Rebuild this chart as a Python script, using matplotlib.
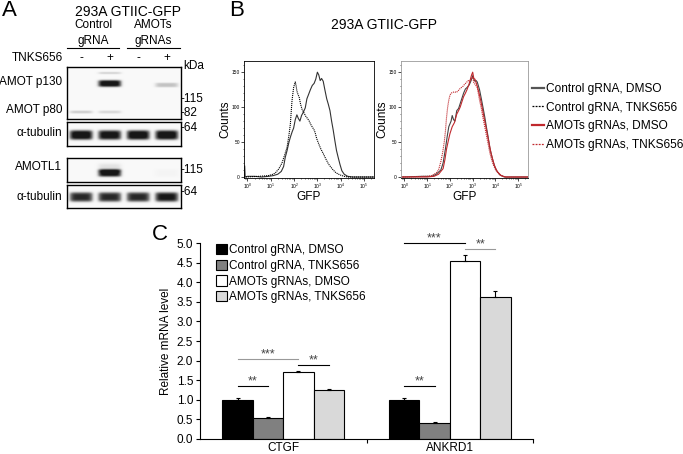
import numpy as np
import matplotlib
matplotlib.use("Agg")
import matplotlib.pyplot as plt
from matplotlib.lines import Line2D
from matplotlib.patches import Patch
from matplotlib.ticker import LogLocator, MultipleLocator, FormatStrFormatter, NullFormatter

plt.rcParams['font.family'] = ['Liberation Sans', 'DejaVu Sans']

W, H = 683, 454   # figure size in pixels (dpi 100)

# ---------------- data ----------------
# panel A: western blot band intensities per lane (0 = none, 1 = black)
lane_gRNA = ['Control\ngRNA', 'AMOTs\ngRNAs']
lane_tnks = ['-', '+', '-', '+']
amot_p130 = [0.0, 0.95, 0.0, 0.0]
amot_p130_l4 = [0.0, 0.0, 0.0, 0.30]
amot_upper = [0.0, 0.22, 0.0, 0.0]
amot_p80 = [0.25, 0.20, 0.0, 0.0]
tubulin_1 = [0.95, 0.92, 0.95, 0.95]
amotl1 = [0.0, 0.92, 0.0, 0.04]
amotl1_smear = [0.0, 0.15, 0.0, 0.0]
tubulin_2 = [0.82, 0.82, 0.82, 0.88]

# panel B: flow cytometry histograms (log10 GFP, counts)
ctrl_dmso_d = [-0.15, -0.12, -0.1, 0.0, 0.3, 0.6, 0.9, 1.1, 1.3, 1.45, 1.55, 1.62, 1.7, 1.78, 1.85, 1.92,
               1.98, 2.05, 2.12, 2.18, 2.25, 2.32, 2.4, 2.48, 2.55, 2.62, 2.7, 2.78, 2.86, 2.93, 3.0,
               3.06, 3.12, 3.18, 3.25, 3.32, 3.4, 3.47, 3.54, 3.61, 3.68, 3.75, 3.82, 3.9, 3.97,
               4.05, 4.15, 4.3, 4.5, 5.43]
ctrl_dmso_c = [0, 16, 0, 1, 1, 0, 1, 2, 4, 8, 15, 28, 38, 50, 58, 65,
               70, 82, 89, 84, 80, 88, 93, 99, 112, 118, 125, 131, 134, 140, 150,
               146, 138, 141, 137, 125, 112, 104, 95, 80, 67, 52, 38, 27, 18,
               9, 4, 1, 0, 0]
ctrl_tnks_d = [-0.15, 0.5, 0.9, 1.1, 1.2, 1.35, 1.48, 1.6, 1.7, 1.78, 1.84, 1.88, 1.91, 1.95, 1.98,
               2.02, 2.05, 2.09, 2.12, 2.17, 2.22, 2.28, 2.34, 2.42, 2.5, 2.57, 2.65, 2.72, 2.79,
               2.85, 2.9, 2.97, 3.05, 3.15, 3.26, 3.36, 3.47, 3.58, 3.68, 3.8, 3.97, 4.15, 4.3, 5.43]
ctrl_tnks_c = [0, 1, 2, 4, 6, 12, 20, 32, 43, 60, 76, 95, 109, 120, 128,
               133, 136, 130, 123, 118, 114, 104, 97, 92, 87, 84, 80, 75, 71,
               68, 64, 55, 48, 40, 33, 26, 19, 14, 10, 6, 3, 1, 0, 0]
ctrl_dmso2_d = [-0.15, 0.8, 1.2, 1.4, 1.6, 1.7, 1.8, 1.88, 1.95, 2.0, 2.05, 2.1, 2.16, 2.22, 2.3, 2.38,
                2.45, 2.52, 2.6, 2.68, 2.75, 2.85, 2.93, 3.0, 3.05, 3.1, 3.15, 3.2, 3.3, 3.38, 3.45,
                3.53, 3.6, 3.68, 3.75, 3.83, 3.9, 3.98, 4.05, 4.2, 4.4, 5.43]
ctrl_dmso2_c = [0, 1, 1, 4, 10, 20, 40, 58, 72, 76, 80, 88, 82, 80, 95, 98,
                105, 112, 120, 126, 128, 132, 138, 145, 140, 137, 138, 136, 125, 112, 100,
                86, 72, 57, 42, 31, 22, 14, 9, 3, 0, 0]
amot_dmso_d = [-0.15, 1.0, 1.3, 1.5, 1.7, 1.78, 1.85, 1.93, 2.0, 2.1, 2.2, 2.3, 2.38, 2.45, 2.53, 2.6,
               2.68, 2.75, 2.83, 2.9, 2.95, 3.0, 3.05, 3.1, 3.2, 3.28, 3.35, 3.43, 3.5, 3.58, 3.65,
               3.73, 3.8, 3.88, 3.95, 4.03, 4.1, 4.25, 4.45, 5.43]
amot_dmso_c = [0, 0, 1, 4, 12, 25, 40, 52, 62, 72, 78, 90, 95, 100, 108, 115,
               120, 125, 132, 140, 146, 150, 141, 140, 130, 120, 110, 97, 85, 72, 60,
               47, 35, 25, 17, 11, 7, 2, 0, 0]
amot_tnks_d = [-0.15, 1.0, 1.2, 1.4, 1.5, 1.6, 1.68, 1.75, 1.8, 1.85, 1.9, 1.95, 2.0, 2.05, 2.12, 2.2,
               2.28, 2.35, 2.43, 2.5, 2.58, 2.65, 2.72, 2.8, 2.87, 2.93, 3.0, 3.05, 3.12, 3.2, 3.3,
               3.38, 3.45, 3.53, 3.6, 3.68, 3.75, 3.83, 3.9, 3.98, 4.05, 4.2, 4.4, 5.43]
amot_tnks_c = [0, 1, 2, 6, 10, 22, 35, 50, 65, 85, 100, 110, 117, 120, 121, 122,
               121, 123, 126, 128, 130, 133, 135, 138, 137, 140, 143, 135, 132, 128, 110,
               98, 85, 72, 60, 47, 35, 25, 18, 12, 8, 3, 0, 0]

# panel C: qPCR
genes = ['CTGF', 'ANKRD1']
groups = ['Control gRNA, DMSO', 'Control gRNA, TNKS656', 'AMOTs gRNAs, DMSO', 'AMOTs gRNAs, TNKS656']
ctrl_dmso_mrna = [1.00, 1.00]
ctrl_tnks_mrna = [0.53, 0.40]
amot_dmso_mrna = [1.70, 4.55]
amot_tnks_mrna = [1.24, 3.63]
ctrl_dmso_err = [0.03, 0.04]
ctrl_tnks_err = [0.02, 0.03]
amot_dmso_err = [0.03, 0.16]
amot_tnks_err = [0.02, 0.15]
# (gene, bar i, bar j, height, label, line colour)
sig_pairs = [(0, 0, 1, 1.35, '**', 'black'), (0, 0, 2, 2.04, '***', '#999999'),
             (0, 2, 3, 1.88, '**', 'black'), (1, 0, 1, 1.35, '**', 'black'),
             (1, 0, 2, 5.00, '***', 'black'), (1, 2, 3, 4.85, '**', '#999999')]


def box(x0, y0, x1, y1):
    return [x0 / W, 1 - y1 / H, (x1 - x0) / W, (y1 - y0) / H]


def ftext(x, y, s, **kw):
    kw.setdefault('va', 'center')
    fig.text(x / W, 1 - y / H, s, **kw)


def fline(x0, x1, y, **kw):
    fig.add_artist(Line2D([x0 / W, x1 / W], [1 - y / H, 1 - y / H], transform=fig.transFigure, **kw))


def blot(ax, height, bands):
    nx, ny = 160, int(height * 4)
    xs = (np.arange(nx) + 0.5) / 40.0
    ys = (np.arange(ny) + 0.5) / 4.0
    img = np.full((ny, nx), 0.05)
    for row, sig, vals in bands:
        vy = np.exp(-((ys - row) / sig) ** 4 / 2)
        for i, v in enumerate(vals):
            hx = np.exp(-((xs - (i + 0.5)) / 0.37) ** 6 / 2)
            img += v * np.outer(vy, hx)
    ax.imshow(np.clip(img, 0, 0.92), cmap='Greys', vmin=0, vmax=1, aspect='auto',
              extent=(0, 4, height, 0), interpolation='bilinear')
    ax.set_xticks([])
    ax.set_yticks([])
    for s in ax.spines.values():
        s.set_linewidth(1.0)


fig = plt.figure(figsize=(W / 100, H / 100), dpi=100)

# ================= panel A =================
ftext(2, 11, 'A', fontsize=16, ha='left')
ftext(128, 12, '293A GTIIC-GFP', fontsize=10, ha='center')
for cx, lab in zip([93, 153], lane_gRNA):
    l1, l2 = lab.split('\n')
    ftext(cx, 25, l1, fontsize=8.5, ha='center')
    ftext(cx, 41, l2, fontsize=8.5, ha='center')
fline(67, 119, 48, color='black', lw=0.8)
fline(127, 180, 48, color='black', lw=0.8)
ftext(63, 58, 'TNKS656', fontsize=8.5, ha='right')
lane_x = [81, 109.5, 138, 166.5]
for lx, s in zip(lane_x, lane_tnks):
    ftext(lx, 58, s, fontsize=8.5, ha='center')
ftext(183, 66, 'kDa', fontsize=8.5, ha='left')

ax1 = fig.add_axes(box(66.7, 67, 180.7, 119))
blot(ax1, 52, [(16.5, 3.0, amot_p130), (18, 2.0, amot_p130_l4), (6, 1.0, amot_upper), (45, 1.3, amot_p80)])
ax2 = fig.add_axes(box(66.7, 122, 180.7, 146))
blot(ax2, 24, [(13, 4.2, tubulin_1)])
ax3 = fig.add_axes(box(66.7, 158, 180.7, 182))
blot(ax3, 24, [(15, 3.3, amotl1), (10, 4.0, amotl1_smear)])
ax4 = fig.add_axes(box(66.7, 185, 180.7, 208))
blot(ax4, 23, [(12, 4.2, tubulin_2)])

for y, s in [(82, 'AMOT p130'), (110, 'AMOT p80'), (133, 'α-tubulin'), (167, 'AMOTL1'), (197, 'α-tubulin')]:
    ftext(62, y, s, fontsize=8.5, ha='right')
for y, s in [(99, '-115'), (113, '-82'), (128, '-64'), (170, '-115'), (192, '-64')]:
    ftext(180.5, y, s, fontsize=8.5, ha='left')

# ================= panel B =================
ftext(229, 10, 'B', fontsize=16, ha='left')
ftext(384, 25, '293A GTIIC-GFP', fontsize=10, ha='center')

red = '#c0282d'
dot = (0, (1, 0.8))


def flow_axes(rect, frame_col):
    ax = fig.add_axes(rect)
    ax.set_xscale('log')
    ax.set_xlim(10 ** -0.15, 10 ** 5.43)
    ax.set_ylim(-1.4, 166)
    ax.xaxis.set_major_locator(LogLocator(base=10, numticks=10))
    ax.xaxis.set_minor_locator(LogLocator(base=10, subs=np.arange(2, 10), numticks=10))
    ax.xaxis.set_minor_formatter(NullFormatter())
    ax.set_yticks([0, 50, 100, 150])
    ax.yaxis.set_minor_locator(MultipleLocator(10))
    ax.tick_params(which='major', labelsize=3.5, length=2, width=0.5, pad=1)
    ax.tick_params(which='minor', length=1, width=0.4)
    for s in ax.spines.values():
        s.set_linewidth(0.6)
        s.set_color(frame_col)
    ax.spines['bottom'].set_color('black')
    return ax


axl = flow_axes(box(244, 61, 374, 178), 'black')
axl.plot(10 ** np.array(ctrl_dmso_d), ctrl_dmso_c, color='#333333', lw=0.8)
axl.plot(10 ** np.array(ctrl_tnks_d), ctrl_tnks_c, color='black', lw=0.8, ls=dot)

axr = flow_axes(box(401, 61, 528, 178), '#9a9a9a')
axr.plot(10 ** np.array(ctrl_dmso2_d), ctrl_dmso2_c, color='#444444', lw=0.8)
axr.plot(10 ** np.array(amot_dmso_d), amot_dmso_c, color=red, lw=0.8)
axr.plot(10 ** np.array(amot_tnks_d), amot_tnks_c, color=red, lw=0.8, ls=dot)

for cx in [225, 382]:
    ftext(cx, 119, 'Counts', fontsize=8.5, ha='center', rotation=90)
ftext(309, 197, 'GFP', fontsize=8.5, ha='center')
ftext(465, 197, 'GFP', fontsize=8.5, ha='center')

flow_handles = [Line2D([], [], color='#555555', lw=1.6),
                Line2D([], [], color='black', lw=0.9, ls=(0, (1.5, 1))),
                Line2D([], [], color=red, lw=1.6),
                Line2D([], [], color=red, lw=0.9, ls=(0, (1.5, 1)))]
fig.legend(flow_handles, groups, loc='upper left', bbox_to_anchor=(532 / W, 1 - 83 / H),
           frameon=False, fontsize=8.6, handlelength=1.0, handletextpad=0.15,
           labelspacing=0.55, borderpad=0, borderaxespad=0)

# ================= panel C =================
ftext(152, 234, 'C', fontsize=16, ha='left')
axc = fig.add_axes(box(200, 243.3, 533, 438.7))
vals = [ctrl_dmso_mrna, ctrl_tnks_mrna, amot_dmso_mrna, amot_tnks_mrna]
errs = [ctrl_dmso_err, ctrl_tnks_err, amot_dmso_err, amot_tnks_err]
colors = ['#000000', '#808080', '#ffffff', '#d9d9d9']
bw = 0.183
x = np.arange(len(genes))
for k in range(4):
    pos = x + (k - 1.5) * bw
    axc.bar(pos, vals[k], width=bw, color=colors[k], edgecolor='black', linewidth=0.8,
            label=groups[k], zorder=2)
    axc.errorbar(pos, vals[k], yerr=[np.zeros(len(genes)), errs[k]], fmt='none',
                 ecolor='black', elinewidth=0.8, capsize=1.2, capthick=0.8, zorder=3)

for g, i, j, yv, lab, col in sig_pairs:
    xi = x[g] + (i - 1.5) * bw
    xj = x[g] + (j - 1.5) * bw
    axc.plot([xi, xj], [yv, yv], color=col, lw=0.8, clip_on=False)
    axc.annotate(lab, ((xi + xj) / 2, yv), xytext=(0, 1), textcoords='offset points',
                 ha='center', va='baseline', fontsize=9, color='#444444', annotation_clip=False)

axc.set_xlim(-0.5, 1.5)
axc.set_ylim(0, 5)
axc.yaxis.set_major_locator(MultipleLocator(0.5))
axc.yaxis.set_major_formatter(FormatStrFormatter('%.1f'))
axc.set_xticks(x)
axc.set_xticklabels(genes)
axc.set_xticks([0.5, 1.5], minor=True)
axc.tick_params(axis='x', which='major', length=0, labelsize=8.5, pad=2.5)
axc.tick_params(axis='x', which='minor', length=3, width=0.8)
axc.tick_params(axis='y', length=3, width=0.8, labelsize=8.5, pad=2)
axc.set_ylabel('Relative mRNA level', fontsize=8.5, labelpad=3)
for s in ['top', 'right']:
    axc.spines[s].set_visible(False)
for s in ['left', 'bottom']:
    axc.spines[s].set_linewidth(0.8)

bar_handles = [Patch(facecolor=c, edgecolor='black', linewidth=0.8) for c in colors]
axc.legend(bar_handles, groups, loc='upper left', bbox_to_anchor=(216 / W, 1 - 244 / H),
           bbox_transform=fig.transFigure, frameon=False, fontsize=8.5, handlelength=0.95,
           handleheight=0.95, handletextpad=0.15, labelspacing=0.3, borderpad=0, borderaxespad=0)

fig.savefig('out.png', dpi=100)
